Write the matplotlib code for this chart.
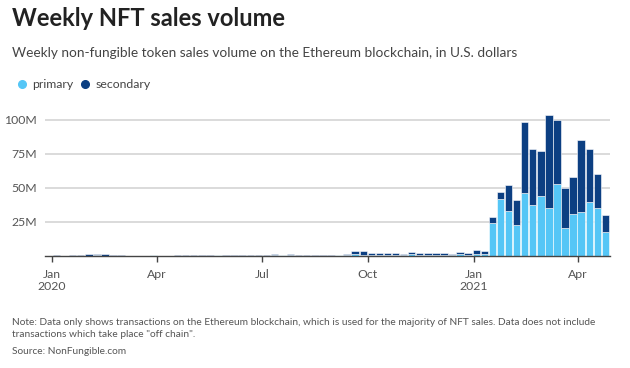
import matplotlib.pyplot as plt
import matplotlib.dates as mdates
from matplotlib.lines import Line2D
import numpy as np
import pandas as pd

plt.rcParams['font.family'] = ['Lato', 'DejaVu Sans']

# weekly bars, one per week starting Jan 5 2020
weeks = pd.date_range("2020-01-05", periods=69, freq="7D")

# values in millions of U.S. dollars
primary = [0.2, 0.1, 0.2, 0.2, 0.3, 0.4, 0.3, 0.2, 0.2, 0.05,
           0.05, 0.05, 0.6, 0.05, 0.1, 0.2, 0.2, 0.1, 0.3, 0.2,
           0.7, 0.2, 0.2, 0.3, 0.2, 0.3, 0.2, 0.4, 0.4, 0.8,
           0.3, 0.2, 0.2, 0.3, 0.3, 0.4, 0.8, 1.2, 1.0, 0.9,
           1.0, 0.9, 1.0, 0.9, 1.6, 1.0, 1.0, 0.9, 1.1, 0.9,
           1.2, 1.0, 1.5, 1.4, 24.3, 41.8, 33.4, 22.6, 46.2, 37.3,
           43.7, 35.4, 53.1, 20.4, 30.5, 32.2, 39.4, 35.1, 17.4]
secondary = [0.3, 0.2, 0.3, 0.4, 0.9, 1.1, 0.9, 0.6, 0.5, 0.1,
             0.05, 0.1, 0.2, 0.1, 0.2, 0.4, 0.4, 0.3, 0.5, 0.3,
             0.3, 0.3, 0.3, 0.6, 0.3, 0.6, 0.4, 1.4, 0.6, 0.4,
             0.5, 0.4, 0.3, 0.4, 0.3, 0.4, 0.7, 2.3, 2.5, 1.3,
             1.2, 1.3, 1.2, 0.8, 1.6, 1.2, 1.2, 1.1, 1.1, 0.6,
             2.0, 1.5, 2.9, 2.0, 4.0, 4.9, 19.0, 18.7, 52.1, 41.1,
             33.2, 68.3, 47.1, 29.5, 27.5, 52.8, 39.2, 24.8, 12.6]

y_ticks = [25, 50, 75, 100]
y_labels = ["25M", "50M", "75M", "100M"]
x_ticks = ["2020-01-01", "2020-04-01", "2020-07-01", "2020-10-01", "2021-01-01", "2021-04-01"]
x_labels = ["Jan\n2020", "Apr", "Jul", "Oct", "Jan\n2021", "Apr"]

LIGHT = "#55c6f6"
DARK = "#0c3f82"

fig = plt.figure(figsize=(6.3, 3.68), dpi=100)
ax = fig.add_axes([45 / 630, 1 - 256 / 368, 565 / 630, 143 / 368])

x = mdates.date2num(weeks)
prim = np.array(primary) * 1e6
sec = np.array(secondary) * 1e6
ax.bar(x, prim, width=6.4, color=LIGHT, edgecolor="white", linewidth=0.4, zorder=3)
ax.bar(x, sec, width=6.4, bottom=prim, color=DARK, edgecolor="white", linewidth=0.4, zorder=3)

ax.set_xlim(mdates.date2num(pd.Timestamp("2019-12-26")), mdates.date2num(pd.Timestamp("2021-04-29")))
ax.set_ylim(0, 105e6)

ax.set_yticks([v * 1e6 for v in y_ticks])
ax.set_yticklabels(y_labels)
ax.set_xticks(mdates.date2num(pd.to_datetime(x_ticks)))
ax.set_xticklabels(x_labels)

ax.grid(axis="y", color="#d4d4d4", linewidth=1.2, zorder=0)
for s in ["top", "right", "left"]:
    ax.spines[s].set_visible(False)
ax.spines["bottom"].set_color("#444444")
ax.spines["bottom"].set_linewidth(1.0)
ax.spines["bottom"].set_zorder(4)
ax.tick_params(axis="y", length=0, pad=6, labelsize=8.8, labelcolor="#555555")
ax.tick_params(axis="x", length=4, width=1, color="#444444", pad=5, labelsize=8.8, labelcolor="#555555")

fig.text(12 / 630, 1 - 7 / 368, "Weekly NFT sales volume", fontsize=17, fontweight="bold",
         color="#222222", va="top", ha="left")
fig.text(12 / 630, 1 - 47 / 368, "Weekly non-fungible token sales volume on the Ethereum blockchain, in U.S. dollars",
         fontsize=9.8, color="#444444", va="top", ha="left")

handles = [Line2D([], [], marker="o", linestyle="", color=LIGHT, markersize=5.5),
           Line2D([], [], marker="o", linestyle="", color=DARK, markersize=5.5)]
fig.legend(handles, ["primary", "secondary"], loc="upper left", bbox_to_anchor=(5 / 630, 1 - 68 / 368),
           ncol=2, frameon=False, handletextpad=0.3, columnspacing=0.5, fontsize=8.8,
           labelcolor="#444444", handlelength=1.0)

fig.text(12 / 630, 1 - 318 / 368,
         "Note: Data only shows transactions on the Ethereum blockchain, which is used for the majority of NFT sales. Data does not include\n"
         "transactions which take place \"off chain\".",
         fontsize=7.3, color="#555555", va="top", ha="left", linespacing=1.45)
fig.text(12 / 630, 1 - 347 / 368, "Source: NonFungible.com", fontsize=7.3, color="#555555", va="top", ha="left")

fig.savefig("out.png", dpi=100, facecolor="white")
